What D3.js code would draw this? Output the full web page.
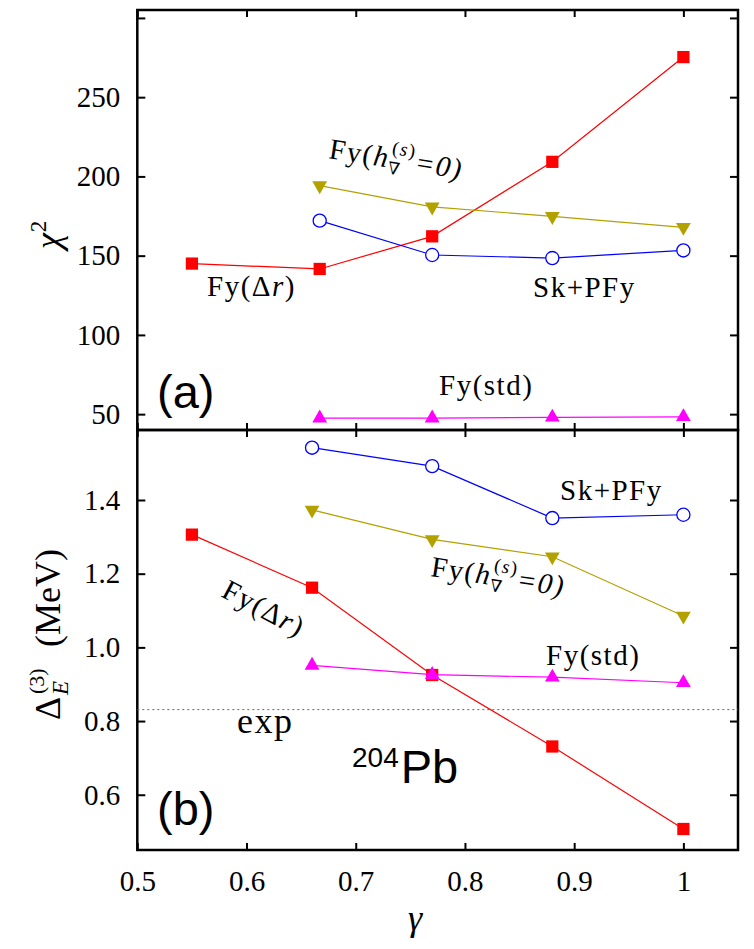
<!DOCTYPE html>
<html>
<head>
<meta charset="utf-8">
<script src="https://cdn.jsdelivr.net/npm/d3@7"></script>
<style>
  body { margin: 0; background: #fff; }
  svg { display: block; }
</style>
</head>
<body>
<div id="chart"></div>
<script>
// gamma values
const gammaAFull = [0.55, 0.667, 0.77, 0.88, 1.0];
const gammaA = [0.667, 0.77, 0.88, 1.0];
const gammaBFull = [0.55, 0.66, 0.77, 0.88, 1.0];
const gammaB = [0.66, 0.77, 0.88, 1.0];

// panel (a): chi^2
const chiFyDr = [145, 141.6, 162.2, 209.2, 275.3];
const chiFyH0 = [194.2, 180.8, 174.8, 167.9];
const chiSkPFy = [172.1, 150.4, 148.5, 153.3];
const chiFyStd = [47.5, 47.5, 48, 48.3];

// panel (b): Delta_E^(3) in MeV
const dFyDr = [1.306, 1.162, 0.925, 0.731, 0.507];
const dFyH0 = [1.373, 1.293, 1.246, 1.085];
const dSkPFy = [1.542, 1.492, 1.351, 1.360];
const dFyStd = [0.951, 0.926, 0.919, 0.904];
const dExp = 0.831;

// ticks
const xTicks = [0.5, 0.6, 0.7, 0.8, 0.9, 1.0];
const yTicksA = [50, 100, 150, 200, 250, 300];
const yTicksB = [0.6, 0.8, 1.0, 1.2, 1.4];

const W = 754, H = 949;
const left = 137.3, right = 738, topA = 10, mid = 430, botB = 850;

const SERIF = "'Liberation Serif', 'DejaVu Serif', serif";
const SANS = "'Liberation Sans', Arial, sans-serif";
const red = "#ff0000", blue = "#0000ff", olive = "#b3a100", magenta = "#ff00ff";

const svg = d3.select("#chart").append("svg")
    .attr("width", W).attr("height", H);

const x = d3.scaleLinear().domain([0.5, 1.05]).range([left, right]);
const yA = d3.scaleLinear().domain([40, 305]).range([mid, topA]);
const yB = d3.scaleLinear().domain([0.45, 1.59]).range([botB, mid]);

function styleAxis(g) {
    g.attr("font-family", null).attr("font-size", null);
    g.select(".domain").remove();
    g.selectAll(".tick line").attr("stroke", "#000").attr("stroke-width", 2);
    g.selectAll(".tick text")
        .style("font-family", SERIF)
        .style("font-size", "29px")
        .attr("fill", "#000");
}

// axes panel a
svg.append("g").attr("transform", `translate(${left},0)`)
    .call(d3.axisLeft(yA).tickValues(yTicksA).tickSize(-8).tickPadding(17)
        .tickFormat(d => d < 300 ? d : ""))
    .call(styleAxis);
svg.append("g").attr("transform", `translate(${right},0)`)
    .call(d3.axisRight(yA).tickValues(yTicksA).tickSize(-8).tickFormat(""))
    .call(styleAxis);
svg.append("g").attr("transform", `translate(0,${topA})`)
    .call(d3.axisTop(x).tickValues(xTicks).tickSize(-7).tickFormat(""))
    .call(styleAxis);
svg.append("g").attr("transform", `translate(0,${mid})`)
    .call(d3.axisBottom(x).tickValues(xTicks).tickSize(-7).tickFormat(""))
    .call(styleAxis);

// axes panel b
svg.append("g").attr("transform", `translate(${left},0)`)
    .call(d3.axisLeft(yB).tickValues(yTicksB).tickSize(-8).tickPadding(17)
        .tickFormat(d3.format(".1f")))
    .call(styleAxis);
svg.append("g").attr("transform", `translate(${right},0)`)
    .call(d3.axisRight(yB).tickValues(yTicksB).tickSize(-8).tickFormat(""))
    .call(styleAxis);
svg.append("g").attr("transform", `translate(0,${mid})`)
    .call(d3.axisTop(x).tickValues(xTicks).tickSize(-7).tickFormat(""))
    .call(styleAxis);
svg.append("g").attr("transform", `translate(0,${botB})`)
    .call(d3.axisBottom(x).tickValues(xTicks).tickSize(-7).tickPadding(20)
        .tickFormat(d => d === 1 ? "1" : d.toFixed(1)))
    .call(styleAxis);

// frames
[[topA, mid], [mid, botB]].forEach(([t, b]) => {
    svg.append("rect")
        .attr("x", left).attr("y", t)
        .attr("width", right - left).attr("height", b - t)
        .attr("fill", "none").attr("stroke", "#000").attr("stroke-width", 2.5);
});

// exp dotted line
svg.append("line")
    .attr("x1", left).attr("x2", right)
    .attr("y1", yB(dExp)).attr("y2", yB(dExp))
    .attr("stroke", "#666").attr("stroke-width", 1)
    .attr("stroke-dasharray", "2,3");

const sym = {
    square: d3.symbol().type(d3.symbolSquare).size(150),
    circle: d3.symbol().type(d3.symbolCircle).size(135),
    tri: d3.symbol().type(d3.symbolTriangle).size(95)
};

function drawSeries(xs, ys, yScale, color, marker) {
    const pts = xs.map((g, i) => [x(g), yScale(ys[i])]);
    svg.append("path")
        .attr("d", d3.line()(pts))
        .attr("fill", "none").attr("stroke", color).attr("stroke-width", 1.2);
    const g = svg.append("g");
    pts.forEach(p => {
        let m;
        if (marker === "square") {
            m = g.append("path").attr("d", sym.square()).attr("fill", color);
        } else if (marker === "circle") {
            m = g.append("path").attr("d", sym.circle()).attr("fill", "#fff")
                .attr("stroke", color).attr("stroke-width", 1.3);
        } else {
            m = g.append("path").attr("d", sym.tri()).attr("fill", color);
        }
        m.attr("transform", `translate(${p[0]},${p[1]})` + (marker === "down" ? " rotate(180)" : ""));
    });
}

drawSeries(gammaAFull, chiFyDr, yA, red, "square");
drawSeries(gammaA, chiFyH0, yA, olive, "down");
drawSeries(gammaA, chiSkPFy, yA, blue, "circle");
drawSeries(gammaA, chiFyStd, yA, magenta, "up");

drawSeries(gammaBFull, dFyDr, yB, red, "square");
drawSeries(gammaB, dFyH0, yB, olive, "down");
drawSeries(gammaB, dSkPFy, yB, blue, "circle");
drawSeries(gammaB, dFyStd, yB, magenta, "up");

// text helpers
function label(xp, yp, parts, rot, size, spacing) {
    const t = svg.append("text")
        .attr("transform", `translate(${xp},${yp}) rotate(${rot || 0})`)
        .style("font-family", SERIF)
        .style("font-size", (size || 29) + "px")
        .style("letter-spacing", (spacing === undefined ? 1.5 : spacing) + "px")
        .attr("fill", "#000");
    parts.forEach(p => {
        const s = t.append("tspan").text(p.t);
        if (p.i) s.style("font-style", "italic");
        if (p.fs) s.style("font-size", p.fs + "px");
        if (p.dx) s.attr("dx", p.dx);
        if (p.dy) s.attr("dy", p.dy);
    });
    return t;
}

const hLabel = [
    { t: "Fy(" },
    { t: "h", i: true },
    { t: "∇", fs: 17, dy: 6 },
    { t: "(", fs: 19, dx: -12, dy: -20 },
    { t: "s", fs: 19, i: true },
    { t: ")", fs: 19 },
    { t: "=0)", i: true, dy: 14 }
];
const drLabel = [{ t: "Fy(Δ" }, { t: "r", i: true }, { t: ")" }];

// panel (a) labels
label(207, 296, drLabel);
label(533, 297, [{ t: "Sk+PFy" }]);
label(439, 395, [{ t: "Fy(std)" }]);
label(328, 158, hLabel, 9);
svg.append("text")
    .attr("x", 157).attr("y", 408)
    .style("font-family", SANS).style("font-size", "47px").text("(a)");

// panel (b) labels
label(560, 500, [{ t: "Sk+PFy" }]);
label(430, 576, hLabel, 8.5);
label(220, 596, drLabel, 28);
label(546, 665, [{ t: "Fy(std)" }]);
label(237, 733, [{ t: "exp" }], 0, 36, 1.5);
const pb = svg.append("text").attr("x", 352).attr("y", 783)
    .style("font-family", SANS);
pb.append("tspan").style("font-size", "28px").attr("dy", -16).text("204");
pb.append("tspan").style("font-size", "47px").attr("dy", 16).attr("dx", 2).text("Pb");
svg.append("text")
    .attr("x", 157).attr("y", 825)
    .style("font-family", SANS).style("font-size", "47px").text("(b)");

// axis titles
const chiT = svg.append("text")
    .attr("transform", "translate(60,249) rotate(-90)")
    .style("font-family", SERIF)
    .style("font-size", "36px");
chiT.append("tspan").style("font-style", "italic").text("χ");
chiT.append("tspan").style("font-size", "23px").attr("dy", -14).attr("dx", 1).text("2");

const dT = svg.append("g").attr("transform", "translate(60,720) rotate(-90)")
    .style("font-family", SERIF);
dT.append("text").style("font-size", "36px").attr("x", 0).attr("y", 0).text("Δ");
dT.append("text").style("font-size", "23px").style("font-style", "italic")
    .attr("x", 25).attr("y", 8).text("E");
dT.append("text").style("font-size", "22px")
    .attr("x", 26).attr("y", -16).text("(3)");
dT.append("text").style("font-size", "36px")
    .attr("x", 73).attr("y", 0).text("(MeV)");

svg.append("text")
    .attr("x", 415).attr("y", 930)
    .attr("text-anchor", "middle")
    .style("font-family", SERIF)
    .style("font-size", "36px").style("font-style", "italic").text("γ");
</script>
</body>
</html>
